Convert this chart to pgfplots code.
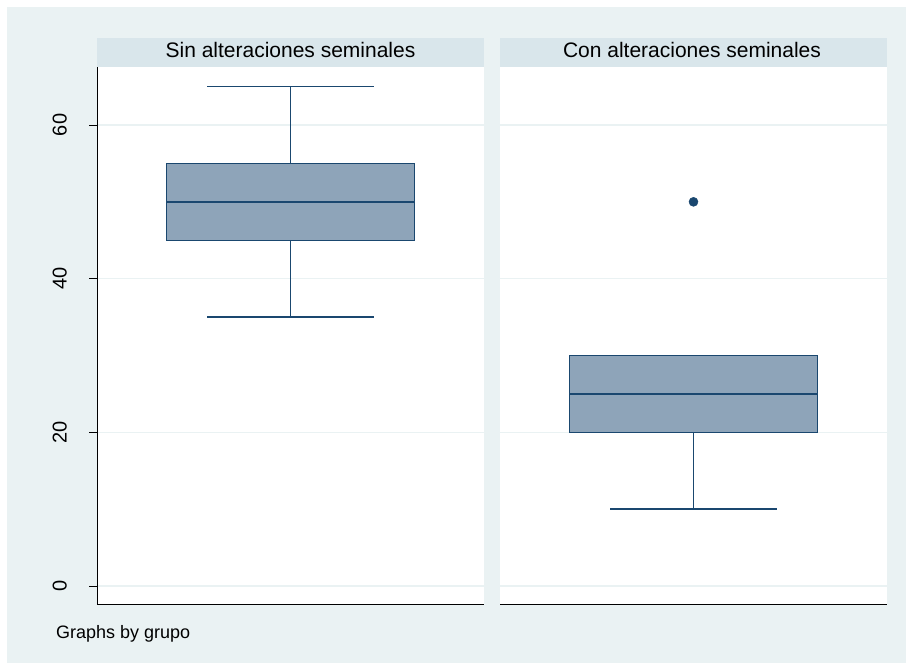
\documentclass[border=0pt]{standalone}
\usepackage{pgfplots}
\pgfplotsset{compat=1.18}
\usepgfplotslibrary{statistics}
\usepackage{fontspec}
\setmainfont{Liberation Sans}
\definecolor{bgc}{HTML}{EAF2F3}
\definecolor{stripc}{HTML}{D9E6EB}
\definecolor{boxfill}{HTML}{8EA4B9}
\definecolor{boxline}{HTML}{1A476F}
\definecolor{gridc}{HTML}{EAF2F3}
\begin{document}
\begin{tikzpicture}
\fill[white] (0pt,0pt) rectangle (906pt,663pt);
\fill[bgc] (7pt,0pt) rectangle (906pt,656pt);
\pgfplotsset{
  panel/.style={
    anchor=south west, width=387pt, height=537pt, scale only axis,
    xmin=0, xmax=1, ymin=-2.34, ymax=67.55,
    axis background/.style={fill=white},
    axis x line*=bottom, axis y line*=left,
    xtick=\empty,
    ytick={0,20,40,60},
    /pgf/number format/assume math mode=true,
    ymajorgrids, major grid style={draw=gridc, line width=1.2pt},
    tick align=outside, major tick length=8pt,
    ytick style={draw=black, line width=0.6pt},
    axis line style={line width=0.9pt},
    yticklabel style={rotate=90, anchor=south, inner sep=0pt, font=\fontsize{20}{24}\selectfont},
    boxplot/draw direction=y,
    boxplot/box extend=0.64,
    boxplot/whisker extend=0.43,
  },
  bx/.style={solid, draw=boxline, fill=boxfill, line width=1.4pt,
    mark=*, mark size=4.5pt, mark options={draw=boxline, fill=boxline, line width=0.5pt}},
}
\begin{axis}[panel, at={(97pt,59pt)}, yticklabel shift=22pt]
\addplot+[bx, boxplot prepared={draw position=0.5, lower whisker=35, lower quartile=45, median=50, upper quartile=55, upper whisker=65}] coordinates {};
\end{axis}
\begin{axis}[panel, at={(500pt,59pt)}, y axis line style={draw=none}, yticklabels={}, ytick style={draw=none}]
\addplot+[bx, boxplot prepared={draw position=0.5, lower whisker=10, lower quartile=20, median=25, upper quartile=30, upper whisker=30}] table[row sep=\\, y index=0] {50\\};
\end{axis}
\fill[stripc] (97pt,596pt) rectangle (484pt,625pt);
\fill[stripc] (500pt,596pt) rectangle (887pt,625pt);
\node[anchor=base, inner sep=0pt, font=\fontsize{21}{25}\selectfont] at (290.5pt,605.7pt) {Sin alteraciones seminales};
\node[anchor=base, inner sep=0pt, font=\fontsize{21}{25}\selectfont] at (692pt,605.7pt) {Con alteraciones seminales};
\node[anchor=base west, inner sep=0pt, font=\fontsize{18}{22}\selectfont] at (56pt,24pt) {Graphs by grupo};
\end{tikzpicture}
\end{document}
